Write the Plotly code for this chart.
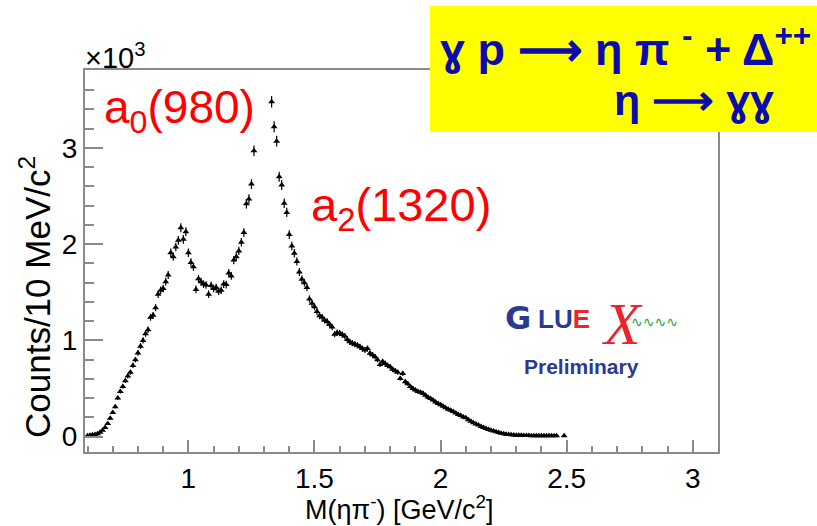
import math
import plotly.graph_objects as go

# eta pi- invariant mass bins (GeV/c^2) and counts per 10 MeV (x10^3)
mass = [0.60, 0.61, 0.62, 0.63, 0.64, 0.65, 0.66, 0.67, 0.68, 0.69,
        0.70, 0.71, 0.72, 0.73, 0.74, 0.75, 0.76, 0.77, 0.78, 0.79,
        0.80, 0.81, 0.82, 0.83, 0.84, 0.85, 0.86, 0.87, 0.88, 0.89,
        0.90, 0.91, 0.92, 0.93, 0.94, 0.95, 0.96, 0.97, 0.98, 0.99,
        1.00, 1.01, 1.02, 1.03, 1.04, 1.05, 1.06, 1.07, 1.08, 1.09,
        1.10, 1.11, 1.12, 1.13, 1.14, 1.15, 1.16, 1.17, 1.18, 1.19,
        1.20, 1.21, 1.22, 1.23, 1.24, 1.25, 1.26,
        1.33, 1.34, 1.35, 1.36, 1.37, 1.38, 1.39,
        1.40, 1.41, 1.42, 1.43, 1.44, 1.45, 1.46, 1.47, 1.48, 1.49,
        1.50, 1.51, 1.52, 1.53, 1.54, 1.55, 1.56, 1.57, 1.58, 1.59,
        1.60, 1.61, 1.62, 1.63, 1.64, 1.65, 1.66, 1.67, 1.68, 1.69,
        1.70, 1.71, 1.72, 1.73, 1.74, 1.75, 1.76, 1.77, 1.78, 1.79,
        1.80, 1.81, 1.82, 1.83, 1.84, 1.85, 1.86, 1.87, 1.88, 1.89,
        1.90, 1.91, 1.92, 1.93, 1.94, 1.95, 1.96, 1.97, 1.98, 1.99,
        2.00, 2.01, 2.02, 2.03, 2.04, 2.05, 2.06, 2.07, 2.08, 2.09,
        2.10, 2.11, 2.12, 2.13, 2.14, 2.15, 2.16, 2.17, 2.18, 2.19,
        2.20, 2.21, 2.22, 2.23, 2.24, 2.25, 2.26, 2.27, 2.28, 2.29,
        2.30, 2.31, 2.32, 2.33, 2.34, 2.35, 2.36, 2.37, 2.38, 2.39,
        2.40, 2.41, 2.42, 2.43, 2.44, 2.45, 2.46, 2.49]

counts_k = [0.010, 0.015, 0.018, 0.022, 0.030, 0.045, 0.065, 0.095, 0.135, 0.19,
            0.25, 0.31, 0.40, 0.47, 0.52, 0.58, 0.63, 0.67, 0.74, 0.80,
            0.87, 0.94, 1.00, 1.07, 1.11, 1.24, 1.26, 1.34, 1.48, 1.52,
            1.54, 1.61, 1.68, 1.91, 1.87, 1.97, 2.04, 2.17, 2.05, 2.13,
            1.91, 1.81, 1.765, 1.53, 1.64, 1.61, 1.585, 1.575, 1.48, 1.57,
            1.54, 1.55, 1.51, 1.52, 1.585, 1.58, 1.70, 1.67, 1.835, 1.87,
            1.93, 2.02, 2.12, 2.42, 2.47, 2.625, 2.97,
            3.48, 3.22, 3.07, 2.70, 2.615, 2.425, 2.33,
            2.10, 1.98, 1.905, 1.82, 1.71, 1.635, 1.60, 1.55, 1.43, 1.385,
            1.35, 1.30, 1.255, 1.24, 1.21, 1.195, 1.165, 1.14, 1.065, 1.08,
            1.075, 1.06, 1.045, 1.01, 0.985, 0.97, 0.96, 0.95, 0.935, 0.915,
            0.90, 0.915, 0.865, 0.85, 0.83, 0.80, 0.75, 0.78, 0.76, 0.74,
            0.725, 0.70, 0.685, 0.67, 0.605, 0.655, 0.57, 0.55, 0.52, 0.50,
            0.485, 0.47, 0.46, 0.45, 0.43, 0.41, 0.395, 0.38, 0.36, 0.345,
            0.33, 0.315, 0.30, 0.285, 0.275, 0.26, 0.245, 0.23, 0.22, 0.205,
            0.195, 0.175, 0.16, 0.145, 0.13, 0.12, 0.105, 0.095, 0.085, 0.075,
            0.065, 0.058, 0.05, 0.042, 0.036, 0.03, 0.025, 0.022, 0.019, 0.017,
            0.015, 0.014, 0.013, 0.012, 0.011, 0.011, 0.010, 0.010, 0.009, 0.009,
            0.009, 0.008, 0.008, 0.008, 0.008, 0.008, 0.008, 0.008]

# Poisson uncertainty of each bin (in units of 10^3 counts)
errors_k = [math.sqrt(c * 1000.0) / 1000.0 for c in counts_k]

x_ticks = [1, 1.5, 2, 2.5, 3]
x_tick_text = ["1", "1.5", "2", "2.5", "3"]
y_ticks = [0, 1, 2, 3]
y_tick_text = ["0", "1", "2", "3"]

FONT = "Arial, Liberation Sans, Helvetica, sans-serif"
FRAME = "#8a8a8a"
BLUE = "#0c0cac"
W, H = 817, 526
L, R, T, B = 85, 99, 70, 74


def px(x):
    return (x - L) / (W - L - R)


def py(y):
    return (H - B - y) / (H - T - B)


fig = go.Figure()
fig.add_trace(go.Scatter(
    x=mass, y=counts_k, mode="markers",
    marker=dict(symbol="triangle-up", size=6, color="black"),
    error_y=dict(type="data", array=errors_k, color="black", thickness=1.2, width=0),
    showlegend=False, hoverinfo="x+y",
))

fig.update_layout(
    width=W, height=H,
    margin=dict(l=L, r=R, t=T, b=B, autoexpand=False),
    paper_bgcolor="white", plot_bgcolor="white",
    font=dict(family=FONT, color="black"),
    xaxis=dict(range=[0.59, 3.1], tickvals=x_ticks, ticktext=x_tick_text,
               ticks="inside", ticklen=12, tickwidth=1.5, tickcolor=FRAME,
               minor=dict(dtick=0.1, ticks="inside", ticklen=6, tickwidth=1.5, tickcolor=FRAME),
               showline=True, linecolor=FRAME, linewidth=2, mirror=True, automargin=False,
               showgrid=False, zeroline=False, tickfont=dict(size=28)),
    yaxis=dict(range=[-0.16, 3.81], tickvals=y_ticks, ticktext=y_tick_text,
               ticks="inside", ticklen=18, tickwidth=1.5, tickcolor=FRAME,
               minor=dict(dtick=0.2, ticks="inside", ticklen=9, tickwidth=1.5, tickcolor=FRAME),
               showline=True, linecolor=FRAME, linewidth=2, mirror=True, automargin=False,
               showgrid=False, zeroline=False, tickfont=dict(size=28)),
)

# yellow reaction box
fig.add_shape(type="rect", xref="paper", yref="paper",
              x0=px(430), x1=px(830), y0=py(132), y1=py(6),
              fillcolor="#ffff00", line=dict(width=0), layer="above")

ann = [
    dict(text="×10<sup>3</sup>", x=px(83), y=py(56), xanchor="left", yanchor="middle",
         font=dict(size=29)),
    dict(text="<b>ɣ p ⟶ η π <sup>-</sup> + Δ<sup>++</sup></b>", x=px(438), y=py(46),
         xanchor="left", yanchor="middle", font=dict(size=45, color=BLUE)),
    dict(text="<b>η ⟶ ɣɣ</b>", x=px(776), y=py(100), xanchor="right", yanchor="middle",
         font=dict(size=43, color=BLUE)),
    dict(text="a<sub>0</sub>(980)", x=px(102), y=py(110), xanchor="left", yanchor="middle",
         font=dict(size=46, color="#ff0000")),
    dict(text="a<sub>2</sub>(1320)", x=px(309), y=py(208), xanchor="left", yanchor="middle",
         font=dict(size=47, color="#ff0000")),
    dict(text="Counts/10 MeV/c<sup>2</sup>", x=px(35), y=py(297), textangle=-90,
         xanchor="center", yanchor="middle", font=dict(size=35)),
    dict(text="M(ηπ<sup>-</sup>) [GeV/c<sup>2</sup>]", x=px(399), y=py(508),
         xanchor="center", yanchor="middle", font=dict(size=27)),
    # GlueX logo
    dict(text="<b>G</b>", x=px(503), y=py(318), xanchor="left", yanchor="middle",
         font=dict(size=32, color="#2b3990", family="DejaVu Sans, sans-serif")),
    dict(text="<b>LU<span style='color:#e8262b'>E</span></b>", x=px(536), y=py(319),
         xanchor="left", yanchor="middle", font=dict(size=26, color="#2b3990")),
    dict(text="<i>X</i>", x=px(622), y=py(324), xanchor="center", yanchor="middle",
         font=dict(size=60, color="#e8262b", family="Liberation Serif, serif")),
    dict(text="∿∿∿∿", x=px(654), y=py(322), xanchor="center", yanchor="middle",
         font=dict(size=14, color="#2aa84a", family="DejaVu Sans, sans-serif")),
    dict(text="<b>Preliminary</b>", x=px(581), y=py(366), xanchor="center", yanchor="middle",
         font=dict(size=21, color="#2b3990")),
]
for a in ann:
    fig.add_annotation(xref="paper", yref="paper", showarrow=False, **a)

fig.write_html("out.html", config={"displayModeBar": False},
               post_script="document.body.style.margin='0';")
